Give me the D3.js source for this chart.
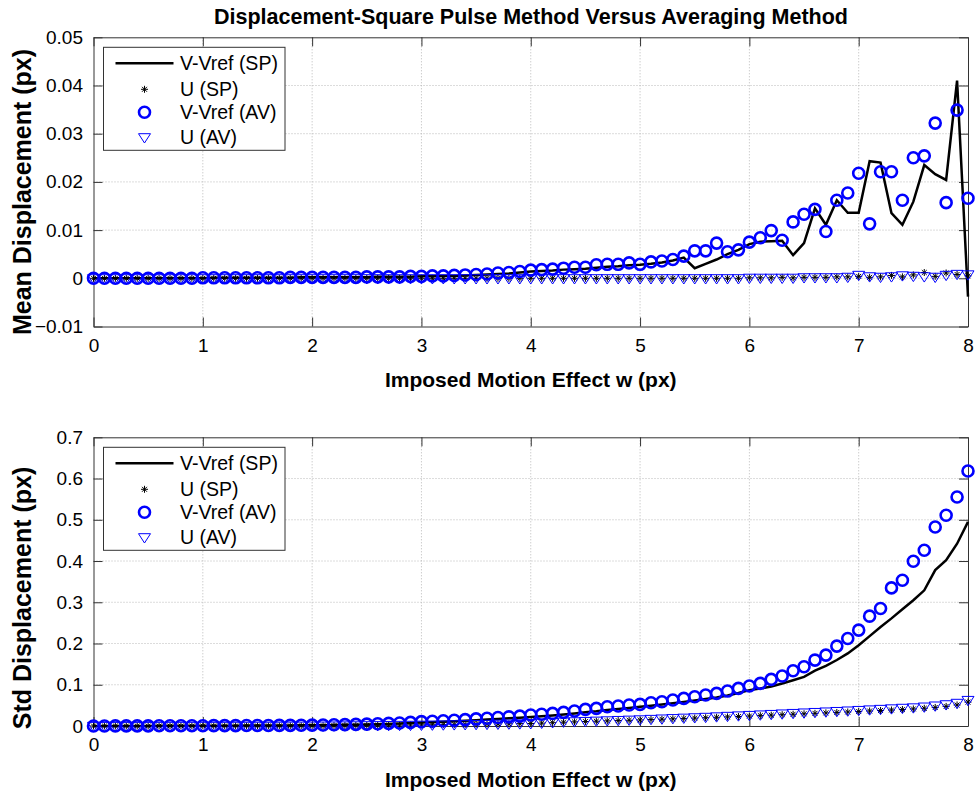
<!DOCTYPE html>
<html>
<head>
<meta charset="utf-8">
<script src="https://cdn.jsdelivr.net/npm/d3@7/dist/d3.min.js"></script>
<style>
  body { margin: 0; background: #fff; }
  text { font-family: Arial, "Liberation Sans", sans-serif; fill: #000; }
</style>
</head>
<body>
<div id="vis"></div>
<script>
var W = 978, H = 797;

// imposed motion effect w (px)
var w = [0,0.1,0.2,0.3,0.4,0.5,0.6,0.7,0.8,0.9,
  1,1.1,1.2,1.3,1.4,1.5,1.6,1.7,1.8,1.9,
  2,2.1,2.2,2.3,2.4,2.5,2.6,2.7,2.8,2.9,
  3,3.1,3.2,3.3,3.4,3.5,3.6,3.7,3.8,3.9,
  4,4.1,4.2,4.3,4.4,4.5,4.6,4.7,4.8,4.9,
  5,5.1,5.2,5.3,5.4,5.5,5.6,5.7,5.8,5.9,
  6,6.1,6.2,6.3,6.4,6.5,6.6,6.7,6.8,6.9,
  7,7.1,7.2,7.3,7.4,7.5,7.6,7.7,7.8,7.9,8];

// mean displacement
var meanVSP = [0,0,0,0,0,0,0,0,0,0,
  0,0.0001,0.0001,0.0001,0.0001,0.0001,0.0001,0.0001,0.0001,0.0002,
  0.0002,0.0002,0.0002,0.0002,0.0002,0.0002,0.0003,0.0003,0.0003,0.0003,
  0.0004,0.0004,0.0005,0.0005,0.0006,0.0007,0.0008,0.0009,0.0010,0.0012,
  0.0014,0.0015,0.0016,0.0018,0.0019,0.0020,0.0022,0.0024,0.0025,0.0027,
  0.0028,0.0030,0.0033,0.0037,0.0043,0.0021,0.0030,0.0039,0.0050,0.0059,
  0.0071,0.0076,0.0077,0.0078,0.0048,0.0073,0.0145,0.0111,0.0162,0.0136,
  0.0136,0.0243,0.0240,0.0135,0.0111,0.0159,0.0235,0.0216,0.0204,0.0410,-0.0038];
var meanUSP = [0,0,0,0,0,0,0,0,0,0,
  0,0,0,0,0,0,0,0,0,0,
  0,0,0,0,0,0,0,0,0,0,
  0,0,0,0,0,0,0,0,0,0,
  0,0,0,0,0,0,0,0,0,0,
  0,0,0,0,0,0,0,0,0,0,
  0.0001,0.0001,0.0001,0.0002,0.0001,0.0002,0.0002,0.0002,0.0003,0.0003,
  0.0004,0.0002,0.0003,0.0006,0.0003,0.0007,0.0012,0.0004,0.0011,0.0008,0.0005];
var meanVAV = [0,0,0,0,0,0,0,0,0,0,
  0.0001,0.0001,0.0001,0.0001,0.0001,0.0001,0.0001,0.0001,0.0002,0.0002,
  0.0002,0.0002,0.0002,0.0002,0.0002,0.0003,0.0003,0.0003,0.0003,0.0004,
  0.0004,0.0005,0.0005,0.0006,0.0007,0.0008,0.0009,0.0011,0.0012,0.0014,
  0.0017,0.0018,0.0019,0.0021,0.0023,0.0023,0.0028,0.0029,0.0029,0.0032,
  0.0029,0.0034,0.0036,0.0039,0.0046,0.0057,0.0057,0.0073,0.0055,0.0059,
  0.0075,0.0084,0.0099,0.0079,0.0117,0.0133,0.0143,0.0097,0.0162,0.0177,
  0.0218,0.0113,0.0221,0.0221,0.0162,0.0250,0.0254,0.0322,0.0157,0.0349,0.0166];
var meanUAV = [0,0,0,0,0,0,0,0,0,0,
  0,0,0,0,0,0,0,0,0,0,
  0,0,0,0,0,0,0,0,0,0,
  0,0,0,0,0,0,0,0,0,0,
  0,0,0,0,0,0,0,0,0,0,
  0,0,0,0,0,0,0,0,0,0,
  0.0001,0.0001,0.0001,0.0001,0.0001,0.0002,0.0002,0.0002,0.0002,0.0003,
  0.0007,0.0004,0.0003,0.0004,0.0006,0.0005,0.0004,0.0003,0.0007,0.0009,0.0008];

// std displacement
var stdVSP = [0,0.0001,0.0002,0.0002,0.0003,0.0003,0.0004,0.0005,0.0005,0.0006,
  0.0007,0.0007,0.0008,0.0009,0.0010,0.0011,0.0012,0.0013,0.0014,0.0016,
  0.0018,0.0021,0.0024,0.0028,0.0033,0.0038,0.0044,0.0051,0.0059,0.0070,
  0.0083,0.0093,0.0103,0.0114,0.0127,0.0141,0.0155,0.0170,0.0185,0.0200,
  0.0220,0.0238,0.0257,0.0279,0.0305,0.0335,0.0358,0.0390,0.0410,0.0435,
  0.0465,0.0492,0.0520,0.0550,0.0585,0.0620,0.0655,0.0692,0.0738,0.0800,
  0.087,0.091,0.096,0.103,0.111,0.119,0.134,0.146,0.160,0.176,
  0.196,0.218,0.240,0.261,0.283,0.305,0.329,0.378,0.402,0.442,0.495];
var stdUSP = [0,0,0,0,0,0,0.0001,0.0001,0.0001,0.0001,
  0.0002,0.0002,0.0002,0.0002,0.0003,0.0003,0.0004,0.0004,0.0005,0.0006,
  0.0007,0.0008,0.0010,0.0011,0.0013,0.0015,0.0017,0.0019,0.0022,0.0024,
  0.0027,0.0030,0.0033,0.0036,0.0039,0.0042,0.0046,0.0049,0.0053,0.0057,
  0.0061,0.0070,0.0080,0.0092,0.0100,0.0108,0.0116,0.0124,0.0131,0.0139,
  0.0147,0.0156,0.0165,0.0174,0.0183,0.0192,0.0201,0.0211,0.0221,0.0231,
  0.0241,0.0252,0.0263,0.0274,0.0285,0.0296,0.0307,0.0318,0.0329,0.0340,
  0.0352,0.0364,0.0376,0.0388,0.0400,0.0414,0.0430,0.0450,0.0475,0.0510,0.0580];
var stdVAV = [0,0.0001,0.0002,0.0003,0.0003,0.0004,0.0005,0.0005,0.0006,0.0007,
  0.0007,0.0008,0.0009,0.0010,0.0011,0.0012,0.0013,0.0014,0.0016,0.0018,
  0.0021,0.0025,0.0029,0.0034,0.0040,0.0046,0.0054,0.0063,0.0073,0.0088,
  0.0105,0.0115,0.0127,0.0140,0.0155,0.0172,0.0188,0.0205,0.0222,0.0240,
  0.0266,0.0285,0.0305,0.0331,0.0363,0.0403,0.0428,0.0468,0.0484,0.0508,
  0.0525,0.0565,0.0589,0.0630,0.0670,0.0710,0.0751,0.0791,0.0847,0.0912,
  0.0969,0.1033,0.1130,0.1211,0.1340,0.1436,0.1598,0.1719,0.1937,0.2123,
  0.2324,0.2663,0.2849,0.3349,0.3535,0.3995,0.4262,0.4826,0.5109,0.5553,0.6182];
var stdUAV = [0,0,0,0,0,0,0.0001,0.0001,0.0001,0.0001,
  0.0002,0.0002,0.0002,0.0003,0.0003,0.0004,0.0004,0.0005,0.0006,0.0007,
  0.0008,0.0009,0.0011,0.0013,0.0015,0.0017,0.0019,0.0022,0.0025,0.0027,
  0.0030,0.0033,0.0036,0.0039,0.0042,0.0046,0.0050,0.0054,0.0058,0.0062,
  0.0066,0.0078,0.0090,0.0105,0.0112,0.0120,0.0128,0.0136,0.0144,0.0152,
  0.0160,0.0170,0.0180,0.0190,0.0200,0.0210,0.0220,0.0232,0.0244,0.0255,
  0.0266,0.0278,0.0290,0.0302,0.0314,0.0326,0.0338,0.0350,0.0362,0.0374,
  0.0387,0.0400,0.0413,0.0426,0.0439,0.0450,0.0470,0.0495,0.0525,0.0560,0.0630];

var xTicks = [0,1,2,3,4,5,6,7,8];
var meanTicks = [-0.01,0,0.01,0.02,0.03,0.04,0.05];
var stdTicks = [0,0.1,0.2,0.3,0.4,0.5,0.6,0.7];
var legendNames = ["V-Vref (SP)", "U (SP)", "V-Vref (AV)", "U (AV)"];

var svg = d3.select("div#vis").append("svg")
  .attr("width", W).attr("height", H);

svg.append("text")
  .attr("x", 531).attr("y", 23.5)
  .attr("text-anchor", "middle")
  .style("font-size", "21.5px").style("font-weight", "bold")
  .text("Displacement-Square Pulse Method Versus Averaging Method");

var left = 93.5, right = 968;
var x = d3.scaleLinear().domain([0, 8]).range([left, right]);

function star(g, cx, cy) {
  var r = 3.5, d = r * 0.7;
  g.append("path")
    .attr("d", "M" + (cx - r) + "," + cy + "H" + (cx + r) +
      "M" + cx + "," + (cy - r) + "V" + (cy + r) +
      "M" + (cx - d) + "," + (cy - d) + "L" + (cx + d) + "," + (cy + d) +
      "M" + (cx - d) + "," + (cy + d) + "L" + (cx + d) + "," + (cy - d))
    .attr("stroke", "#000").attr("stroke-width", 1).attr("fill", "none");
}
function tri(g, cx, cy) {
  var s = 6;
  g.append("path")
    .attr("d", "M" + (cx - s) + "," + (cy - s * 0.6) + "L" + (cx + s) + "," + (cy - s * 0.6) +
      "L" + cx + "," + (cy + s * 0.95) + "Z")
    .attr("stroke", "#0000ff").attr("stroke-width", 1).attr("fill", "none");
}

function panel(top, bottom, domain, ticks, fmt, vSP, uSP, vAV, uAV, ylab, ylabY, xlabY) {
  var y = d3.scaleLinear().domain(domain).range([bottom, top]);
  var g = svg.append("g");

  // grid
  g.selectAll("line.gx").data(xTicks.slice(1, -1)).enter().append("line")
    .attr("x1", d => x(d)).attr("x2", d => x(d))
    .attr("y1", top).attr("y2", bottom)
    .attr("stroke", "#b8b8b8").attr("stroke-width", 1).attr("stroke-dasharray", "1,2");
  g.selectAll("line.gy").data(ticks.slice(1, -1)).enter().append("line")
    .attr("y1", d => y(d)).attr("y2", d => y(d))
    .attr("x1", left).attr("x2", right)
    .attr("stroke", "#b8b8b8").attr("stroke-width", 1).attr("stroke-dasharray", "1,2");

  // axes (box with ticks inside)
  var axB = g.append("g").attr("transform", "translate(0," + bottom + ")")
    .call(d3.axisBottom(x).tickValues(xTicks).tickSizeInner(-9).tickSizeOuter(0).tickPadding(12).tickFormat(d3.format("d")));
  var axT = g.append("g").attr("transform", "translate(0," + top + ")")
    .call(d3.axisTop(x).tickValues(xTicks).tickSizeInner(-9).tickSizeOuter(0).tickFormat(""));
  var axL = g.append("g").attr("transform", "translate(" + left + ",0)")
    .call(d3.axisLeft(y).tickValues(ticks).tickSizeInner(-9).tickSizeOuter(0).tickPadding(10.5).tickFormat(fmt));
  var axR = g.append("g").attr("transform", "translate(" + right + ",0)")
    .call(d3.axisRight(y).tickValues(ticks).tickSizeInner(-9).tickSizeOuter(0).tickFormat(""));
  [axB, axT, axL, axR].forEach(function(a) {
    a.select(".domain").attr("stroke", "#333");
    a.selectAll(".tick line").attr("stroke", "#333");
    a.selectAll("text").style("font-size", "19px").attr("fill", "#000")
      .style("font-family", "Arial, 'Liberation Sans', sans-serif");
  });

  // series
  var line = d3.line().x((d, i) => x(w[i])).y(d => y(d));
  g.append("path").datum(vSP).attr("d", line)
    .attr("fill", "none").attr("stroke", "#000").attr("stroke-width", 2.5);
  uSP.forEach(function(d, i) { star(g, x(w[i]), y(d)); });
  g.selectAll("circle.av").data(vAV).enter().append("circle")
    .attr("cx", (d, i) => x(w[i])).attr("cy", d => y(d)).attr("r", 5.5)
    .attr("fill", "none").attr("stroke", "#0000ff").attr("stroke-width", 2.6);
  uAV.forEach(function(d, i) { tri(g, x(w[i]), y(d)); });

  // labels
  g.append("text")
    .attr("transform", "translate(30.5," + ylabY + ") rotate(-90)")
    .attr("text-anchor", "middle")
    .style("font-size", "25px").style("font-weight", "bold")
    .text(ylab);
  g.append("text")
    .attr("x", (left + right) / 2).attr("y", xlabY)
    .attr("text-anchor", "middle")
    .style("font-size", "21px").style("font-weight", "bold")
    .text("Imposed Motion Effect w (px)");

  // legend
  var lx = 103.5, ly = top + 10;
  var lg = g.append("g");
  lg.append("rect").attr("x", lx).attr("y", ly).attr("width", 181.5).attr("height", 103)
    .attr("fill", "#fff").attr("stroke", "#333").attr("stroke-width", 1);
  var rows = [16, 42, 65, 90];
  lg.append("line").attr("x1", lx + 12).attr("x2", lx + 70)
    .attr("y1", ly + rows[0]).attr("y2", ly + rows[0])
    .attr("stroke", "#000").attr("stroke-width", 2.5);
  star(lg, lx + 41, ly + rows[1]);
  lg.append("circle").attr("cx", lx + 41).attr("cy", ly + rows[2]).attr("r", 5.5)
    .attr("fill", "none").attr("stroke", "#0000ff").attr("stroke-width", 2.6);
  tri(lg, lx + 41, ly + rows[3]);
  lg.selectAll("text").data(legendNames).enter().append("text")
    .attr("x", lx + 76.5).attr("y", (d, i) => ly + rows[i]).attr("dy", "0.35em")
    .style("font-size", "19.5px").text(d => d);
}

panel(37.3, 326.5, [-0.01, 0.05], meanTicks, d => d === 0 ? "0" : d3.format(".2f")(d),
  meanVSP, meanUSP, meanVAV, meanUAV, "Mean Displacement (px)", 192, 386.7);
panel(437.3, 726, [0, 0.7], stdTicks, d => d === 0 ? "0" : d3.format(".1f")(d),
  stdVSP, stdUSP, stdVAV, stdUAV, "Std Displacement (px)", 598, 786.7);
</script>
</body>
</html>
